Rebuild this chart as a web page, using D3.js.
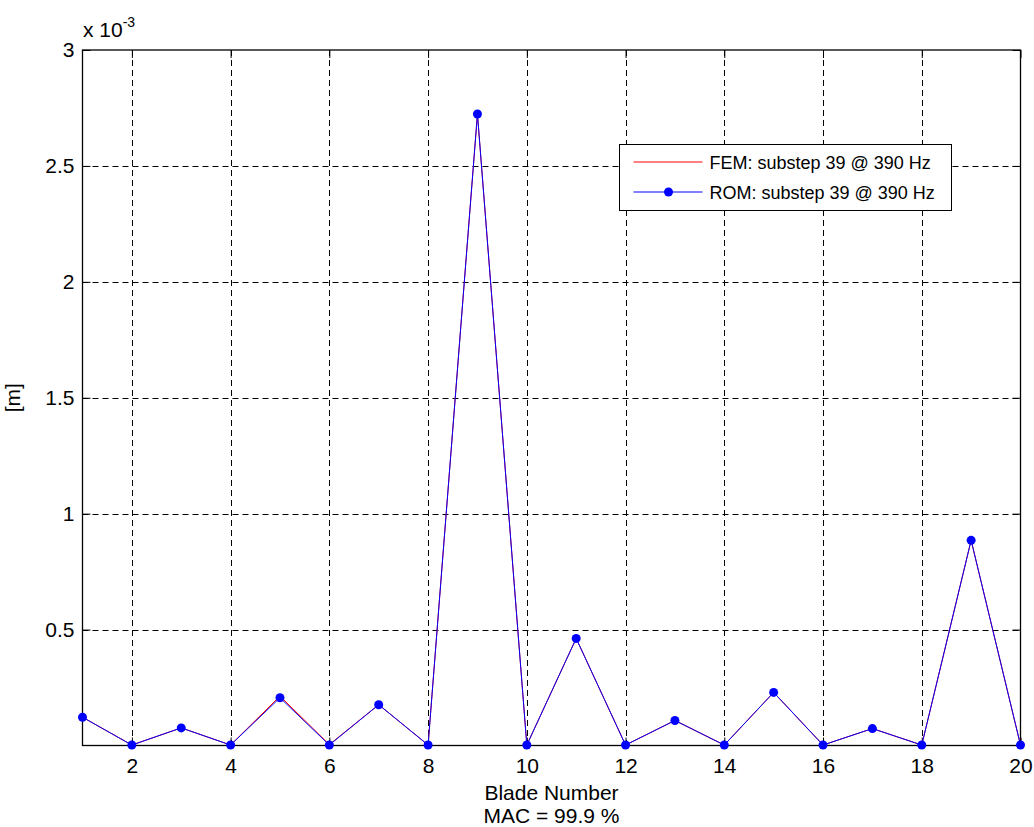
<!DOCTYPE html>
<html>
<head>
<meta charset="utf-8">
<script src="https://cdn.jsdelivr.net/npm/d3@7"></script>
<style>
  body { margin: 0; background: #fff; }
  text { font-family: "Liberation Sans", Arial, sans-serif; fill: #000; }
</style>
</head>
<body>
<div id="chart"></div>
<script>
// blade numbers and displacement amplitudes (units of 1e-3 m)
var blades = d3.range(1, 21);
var femValues = [0.122, 0.002, 0.076, 0.002, 0.213, 0.004, 0.176, 0.002, 2.724, 0.002,
                 0.462, 0.002, 0.108, 0.002, 0.229, 0.002, 0.073, 0.002, 0.885, 0.002];
var romValues = [0.122, 0.002, 0.076, 0.002, 0.206, 0.002, 0.176, 0.002, 2.724, 0.002,
                 0.462, 0.002, 0.108, 0.002, 0.229, 0.002, 0.073, 0.002, 0.885, 0.002];
var xTicks = [2, 4, 6, 8, 10, 12, 14, 16, 18, 20];
var yTicks = [0.5, 1, 1.5, 2, 2.5, 3];
var legendLabels = ["FEM: substep 39 @ 390 Hz", "ROM: substep 39 @ 390 Hz"];

var W = 1034, H = 827;
var plotL = 82.5, plotT = 50, plotR = 1020.5, plotB = 745.5;
var fs = 21;

var svg = d3.select("#chart").append("svg")
    .attr("width", W).attr("height", H);

var x = d3.scaleLinear().domain([1, 20]).range([plotL, plotR]);
var y = d3.scaleLinear().domain([0, 3]).range([plotB, plotT]);

// grid
svg.append("g").selectAll("line")
    .data(xTicks.filter(function(d){ return d < 20; }))
  .enter().append("line")
    .attr("x1", function(d){ return Math.round(x(d)) + 0.5; })
    .attr("x2", function(d){ return Math.round(x(d)) + 0.5; })
    .attr("y1", plotT).attr("y2", plotB)
    .style("stroke", "#000").style("stroke-dasharray", "6,4").style("stroke-width", 1);

svg.append("g").selectAll("line")
    .data(yTicks.filter(function(d){ return d < 3; }))
  .enter().append("line")
    .attr("y1", function(d){ return Math.round(y(d)) + 0.5; })
    .attr("y2", function(d){ return Math.round(y(d)) + 0.5; })
    .attr("x1", plotL).attr("x2", plotR)
    .style("stroke", "#000").style("stroke-dasharray", "6,4").style("stroke-width", 1);

// axes with inner ticks
var tl = 8;
svg.append("g")
    .attr("transform", "translate(0," + plotB + ")")
    .call(d3.axisBottom(x).tickValues(xTicks).tickSize(-tl).tickPadding(13).tickFormat(d3.format("d")))
    .call(function(g){ g.select(".domain").remove(); });
svg.append("g")
    .attr("transform", "translate(0," + plotT + ")")
    .call(d3.axisTop(x).tickValues(xTicks).tickSize(-tl).tickFormat(""))
    .call(function(g){ g.select(".domain").remove(); });
svg.append("g")
    .attr("transform", "translate(" + plotL + ",0)")
    .call(d3.axisLeft(y).tickValues(yTicks).tickSize(-tl).tickPadding(8).tickFormat(function(d){ return d3.format("")(d); }))
    .call(function(g){ g.select(".domain").remove(); });
svg.append("g")
    .attr("transform", "translate(" + plotR + ",0)")
    .call(d3.axisRight(y).tickValues(yTicks).tickSize(-tl).tickFormat(""))
    .call(function(g){ g.select(".domain").remove(); });

svg.selectAll(".tick text").attr("font-size", fs).attr("font-family", "Liberation Sans, Arial, sans-serif");
svg.selectAll(".tick line").style("stroke", "#000");

// frame
svg.append("rect")
    .attr("x", plotL).attr("y", plotT)
    .attr("width", plotR - plotL).attr("height", plotB - plotT)
    .style("fill", "none").style("stroke", "#000").style("stroke-width", 1.3);

// lines
var line = d3.line()
    .x(function(d, i){ return x(blades[i]); })
    .y(function(d){ return y(d); });

svg.append("path").datum(femValues)
    .attr("d", line)
    .style("fill", "none").style("stroke", "#ff0000").style("stroke-width", 1);

svg.append("path").datum(romValues)
    .attr("d", line)
    .style("fill", "none").style("stroke", "#0000ff").style("stroke-width", 1);

svg.append("g").selectAll("circle")
    .data(romValues)
  .enter().append("circle")
    .attr("cx", function(d, i){ return x(blades[i]); })
    .attr("cy", function(d){ return y(d); })
    .attr("r", 4.5)
    .style("fill", "#0000ff");

// exponent label
var expo = svg.append("text").attr("x", 83).attr("y", 37).style("font-size", fs + "px");
expo.append("tspan").text("x 10");
expo.append("tspan").attr("dy", -10).style("font-size", "14px").text("-3");

// axis labels
svg.append("text")
    .attr("x", (plotL + plotR) / 2).attr("y", 800)
    .attr("text-anchor", "middle").style("font-size", fs + "px")
    .text("Blade Number");
svg.append("text")
    .attr("x", (plotL + plotR) / 2).attr("y", 823)
    .attr("text-anchor", "middle").style("font-size", fs + "px")
    .text("MAC = 99.9 %");
svg.append("text")
    .attr("transform", "translate(20," + ((plotT + plotB) / 2) + ") rotate(-90)")
    .attr("text-anchor", "middle").style("font-size", fs + "px")
    .text("[m]");

// legend
var lg = svg.append("g").attr("transform", "translate(619.5,144.5)");
lg.append("rect").attr("width", 332).attr("height", 66)
    .style("fill", "#fff").style("stroke", "#000").style("stroke-width", 1);
var colors = ["#ff0000", "#0000ff"];
legendLabels.forEach(function(label, i){
    var ly = 17.5 + i * 30;
    lg.append("line").attr("x1", 14).attr("x2", 83).attr("y1", ly).attr("y2", ly)
        .style("stroke", colors[i]).style("stroke-width", 1);
    if (i == 1) {
        lg.append("circle").attr("cx", 49).attr("cy", ly).attr("r", 4.5).style("fill", colors[i]);
    }
    lg.append("text").attr("x", 90).attr("y", ly + 6.5).style("font-size", "18px").text(label);
});
</script>
</body>
</html>
